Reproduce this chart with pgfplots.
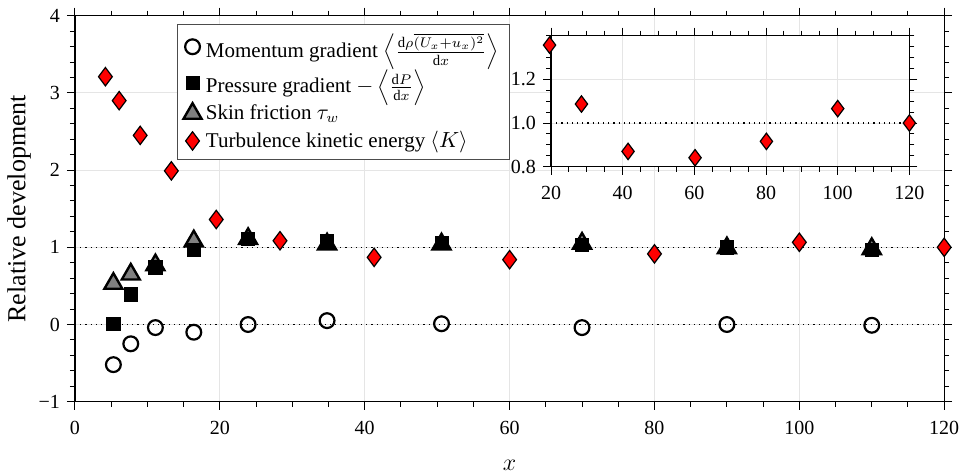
\documentclass[border=0pt]{standalone}
\usepackage{fontspec}
\setmainfont{Liberation Serif}
\usepackage{pgfplots}
\pgfplotsset{compat=1.18}
\pgfplotsset{
 mom/.style={only marks, mark=o, mark size=3.7pt, line width=1.1pt, black},
 pres/.style={only marks, mark=square*, mark size=3.3pt, black, line width=0.4pt},
 skin/.style={only marks, mark=triangle*, mark size=5.2pt, draw=black, fill=gray, line width=1.2pt},
 tke/.style={only marks, mark=diamond*, mark size=4.6pt, draw=black, fill=red, line width=0.6pt},
}
\begin{document}
\begin{tikzpicture}
\begin{axis}[
 scale only axis, width=434.6pt, height=193pt,
 xmin=0, xmax=120, ymin=-1, ymax=4,
 xtick={0,20,...,120}, ytick={-1,0,1,2,3,4},
 yticklabels={−1,0,1,2,3,4},
 minor x tick num=3, minor y tick num=4,
 tick align=outside, major tick length=4pt, minor tick length=2.5pt,
 every tick/.style={black, line width=0.5pt},
 grid=major, major grid style={gray!20, line width=0.5pt},
 axis line style={line width=0.6pt},
 xlabel={$x$}, ylabel={Relative development},
 label style={font=\fontsize{13}{15}\selectfont},
 xlabel style={yshift=-6pt},
 ylabel style={yshift=-3pt},
 tick label style={font=\fontsize{10}{12}\selectfont},
 xticklabel style={yshift=-2pt},
 /pgf/number format/assume math mode=true,
 clip=false,
 legend style={at={(0.1174,0.9785)}, anchor=north west, draw=black!70, line width=0.5pt,
   font=\fontsize{10.5}{12}\selectfont, legend cell align=left,
   nodes={inner sep=2.2pt}},
]
\addlegendimage{mom}\addlegendentry{Momentum gradient $\left\langle\frac{\mathrm{d}\rho\overline{(U_x+u_x)^2}}{\mathrm{d}x}\right\rangle$}
\addlegendimage{pres}\addlegendentry{Pressure gradient $-\left\langle\frac{\mathrm{d}P}{\mathrm{d}x}\right\rangle$}
\addlegendimage{skin}\addlegendentry{Skin friction $\tau_w$}
\addlegendimage{tke}\addlegendentry{Turbulence kinetic energy $\langle K\rangle$}
\addplot[black, dotted, line width=0.6pt, forget plot] coordinates {(0,0) (120,0)};
\addplot[black, dotted, line width=0.6pt, forget plot] coordinates {(0,1) (120,1)};
\addplot[mom, forget plot] coordinates {(5.3,-0.52) (7.7,-0.25) (11.1,-0.04) (16.4,-0.10) (23.9,0.0) (34.8,0.05) (50.6,0.01) (70,-0.04) (90,0.0) (110,-0.01)};
\addplot[skin, forget plot] coordinates {(5.3,0.53) (7.7,0.65) (11.1,0.77) (16.4,1.08) (23.9,1.11) (34.8,1.04) (50.6,1.04) (70,1.05) (90,0.99) (110,0.98)};
\addplot[pres, forget plot] coordinates {(5.3,0.01) (7.7,0.39) (11.1,0.74) (16.4,0.97) (23.9,1.11) (34.8,1.08) (50.6,1.06) (70,1.03) (90,1.0) (110,0.97)};
\addplot[tke, forget plot] coordinates {(4.2,3.21) (6.1,2.90) (9.0,2.45) (13.3,1.99) (19.5,1.36) (28.3,1.085) (41.3,0.87) (60,0.84) (80,0.915) (100,1.065) (120,1.0)};
\end{axis}
\begin{axis}[
 at={(238pt,117.5pt)}, anchor=south west,
 scale only axis, width=179.2pt, height=65.5pt,
 xmin=20, xmax=120, ymin=0.8, ymax=1.4,
 xtick={20,40,...,120}, ytick={0.8,1.0,1.2},
 minor xtick={25,30,35,45,50,55,65,70,75,85,90,95,105,110,115},
 minor ytick={0.85,0.9,0.95,1.05,1.1,1.15,1.25,1.3,1.35,1.4},
 yticklabel style={/pgf/number format/.cd, fixed, fixed zerofill, precision=1},
 tick align=outside, major tick length=4pt, minor tick length=2.5pt,
 every tick/.style={black, line width=0.5pt},
 grid=major, major grid style={gray!20, line width=0.5pt},
 axis line style={line width=0.6pt},
 axis background/.style={fill=white},
 tick label style={font=\fontsize{10}{12}\selectfont},
 xticklabel style={yshift=-2pt},
 /pgf/number format/assume math mode=true,
 clip=false,
]
\addplot[black, dotted, line width=0.6pt] coordinates {(20,1) (120,1)};
\addplot[tke, mark size=4.1pt] coordinates {(19.6,1.357) (28.5,1.087) (41.5,0.870) (60.2,0.841) (80.1,0.916) (100,1.066) (120,1.0)};
\end{axis}
\pgfresetboundingbox
\path[use as bounding box] (-37.5pt,-35.15pt) rectangle (445pt,200.85pt);
\end{tikzpicture}
\end{document}
